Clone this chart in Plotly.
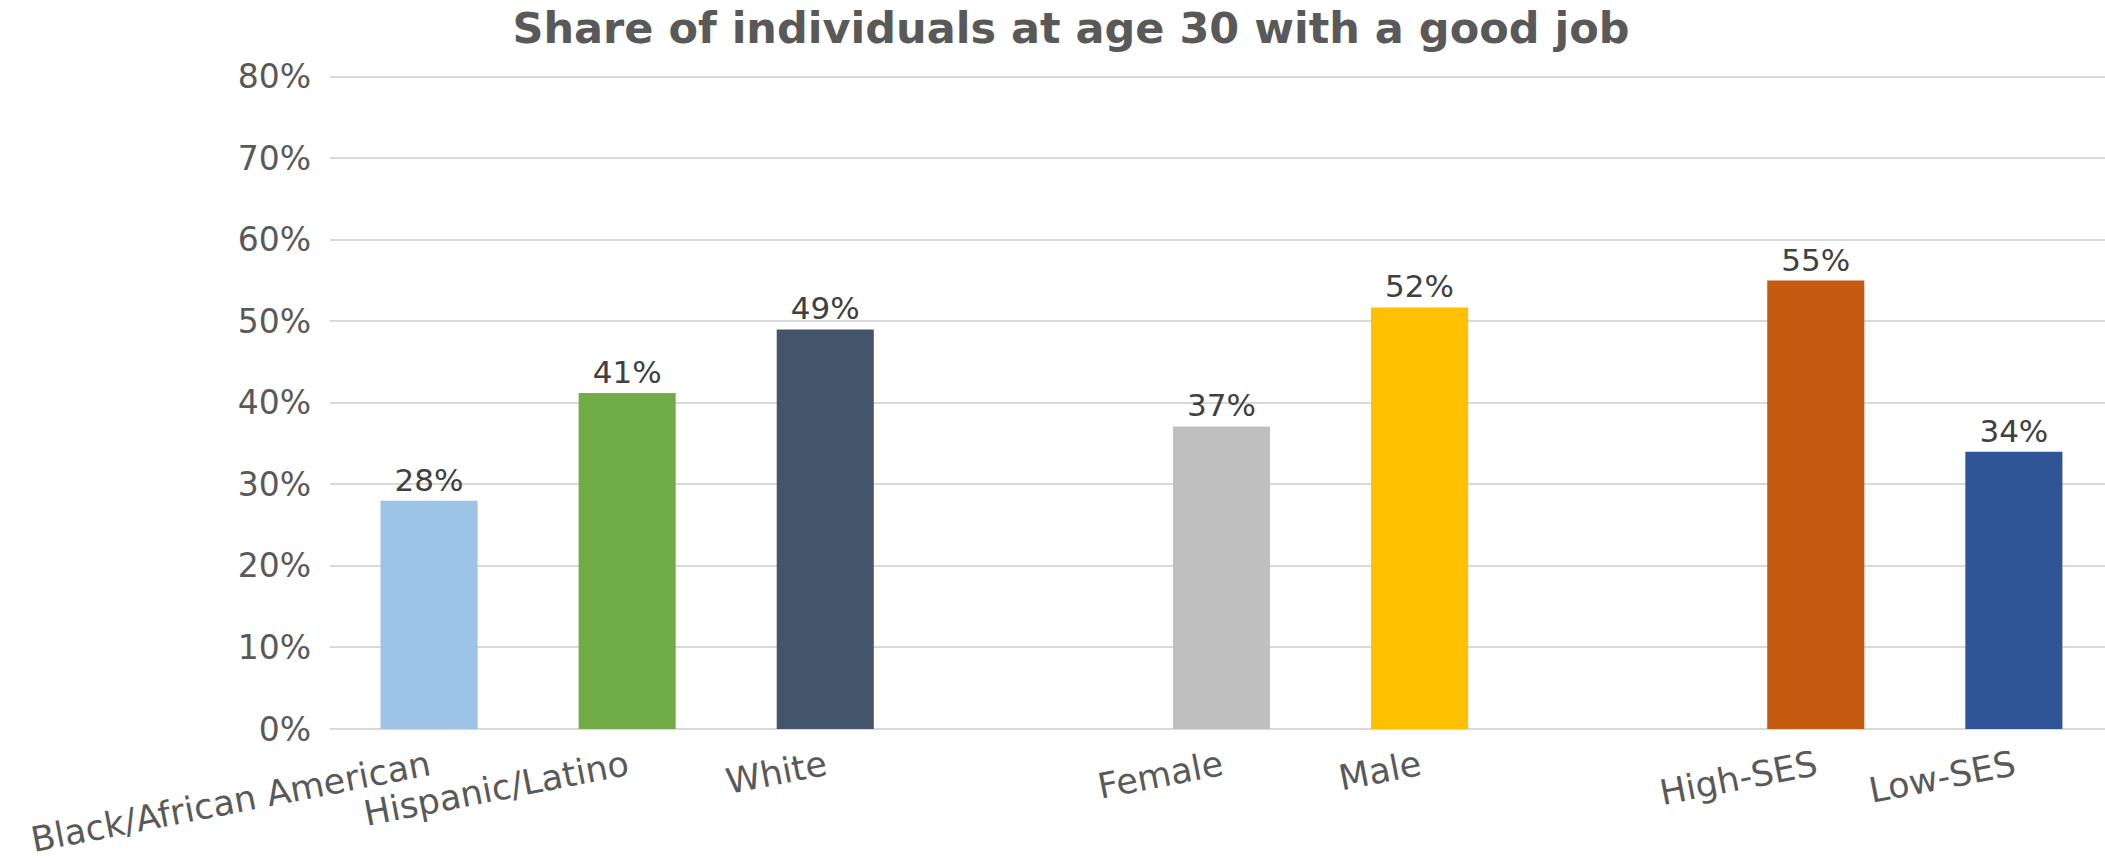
import plotly.graph_objects as go

# ---- data ----
race_categories = ["Black/African American", "Hispanic/Latino", "White"]
race_values = [0.28, 0.412, 0.49]
gender_categories = ["Female", "Male"]
gender_values = [0.371, 0.517]
ses_categories = ["High-SES", "Low-SES"]
ses_values = [0.55, 0.34]

race_colors = ["#9DC3E6", "#70AD47", "#44546A"]
gender_colors = ["#BFBFBF", "#FFC000"]
ses_colors = ["#C55A11", "#2F5597"]

y_tick_values = [0, 0.1, 0.2, 0.3, 0.4, 0.5, 0.6, 0.7, 0.8]

title_text = "Share of individuals at age 30 with a good job"

# ---- build ----
groups = [
    (race_categories, race_values, race_colors),
    (gender_categories, gender_values, gender_colors),
    (ses_categories, ses_values, ses_colors),
]
x_cats, y_vals, cols, order = [], [], [], []
for gi, (cats, vals, cs) in enumerate(groups):
    if gi > 0:
        order.append(" " * gi)  # empty slot between groups
    order.extend(cats)
    x_cats.extend(cats)
    y_vals.extend(vals)
    cols.extend(cs)

FONT = "DejaVu Sans, Liberation Sans, Arial, sans-serif"

fig = go.Figure(
    go.Bar(
        x=x_cats,
        y=y_vals,
        marker=dict(color=cols, line=dict(width=0)),
        texttemplate="%{y:.0%}",
        textposition="outside",
        textfont=dict(family=FONT, size=31, color="#404040"),
        cliponaxis=False,
        showlegend=False,
    )
)

fig.update_layout(
    width=2105,
    height=860,
    margin=dict(l=330, r=0, t=75, b=131),
    paper_bgcolor="white",
    plot_bgcolor="white",
    bargap=0.51,
    title=dict(
        text=title_text,
        font=dict(family=FONT, size=43, color="#595959", weight="bold"),
        x=1071 / 2105,
        xanchor="center",
        xref="container",
        y=1 - 28 / 860,
        yanchor="middle",
        yref="container",
    ),
    xaxis=dict(
        type="category",
        categoryorder="array",
        categoryarray=order,
        range=[-0.5, 8.46],
        tickangle=-11,
        tickfont=dict(family=FONT, size=35, color="#595959"),
        showgrid=False,
        showline=False,
        ticks="",
        zeroline=False,
        ticklabelstandoff=10,
    ),
    yaxis=dict(
        range=[0, 0.802],
        tickvals=y_tick_values,
        tickformat=".0%",
        tickfont=dict(family=FONT, size=33, color="#595959"),
        showgrid=True,
        gridcolor="#D9D9D9",
        gridwidth=2,
        zeroline=True,
        zerolinecolor="#D9D9D9",
        zerolinewidth=2,
        showline=False,
        ticks="",
        ticklabelstandoff=18,
    ),
)

fig.write_html("out.html")
